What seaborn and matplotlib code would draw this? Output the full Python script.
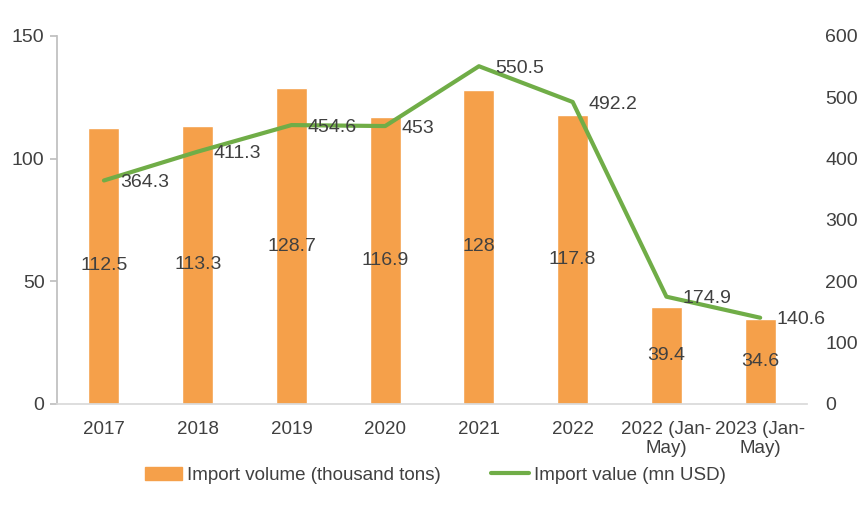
import matplotlib
matplotlib.use("Agg")
import matplotlib.pyplot as plt
import seaborn as sns
import pandas as pd
from matplotlib.lines import Line2D
from matplotlib.patches import Patch

categories = ["2017", "2018", "2019", "2020", "2021", "2022", "2022 (Jan-\nMay)", "2023 (Jan-\nMay)"]
volume = [112.5, 113.3, 128.7, 116.9, 128, 117.8, 39.4, 34.6]
value = [364.3, 411.3, 454.6, 453, 550.5, 492.2, 174.9, 140.6]
vol_labels = ["112.5", "113.3", "128.7", "116.9", "128", "117.8", "39.4", "34.6"]
val_labels = ["364.3", "411.3", "454.6", "453", "550.5", "492.2", "174.9", "140.6"]

sns.set_theme(style="white")
plt.rcParams['font.family'] = ['Liberation Sans', 'DejaVu Sans']
txt = "#404040"
bar_c = "#F5A04A"
line_c = "#70AD47"
fs = 14

df = pd.DataFrame({"cat": categories, "volume": volume, "value": value})

fig = plt.figure(figsize=(8.65, 5.05), dpi=100)
ax = fig.add_axes([0.066, 0.2, 0.867, 0.729])
sns.barplot(data=df, x="cat", y="volume", color=bar_c, width=0.33, ax=ax, saturation=1)
ax.set_ylim(0, 150)
ax.set_yticks([0, 50, 100, 150])
ax.set_xlim(-0.5, len(categories) - 0.5)
ax.set_xlabel("")
ax.set_ylabel("")
for i, (v, lab) in enumerate(zip(volume, vol_labels)):
    ax.text(i, v / 2, lab, ha="center", va="center", fontsize=fs, color=txt)

ax2 = ax.twinx()
sns.lineplot(x=list(range(len(categories))), y=value, color=line_c, linewidth=3, ax=ax2)
ax2.set_ylim(0, 600)
ax2.set_yticks([0, 100, 200, 300, 400, 500, 600])
for i, (v, lab) in enumerate(zip(value, val_labels)):
    ax2.annotate(lab, (i, v), xytext=(11.5, -1.5), textcoords="offset points",
                 ha="left", va="center", fontsize=fs, color=txt)

for a in (ax, ax2):
    for s in a.spines.values():
        s.set_visible(False)
    a.tick_params(labelsize=fs, colors=txt)
ax.spines["left"].set_visible(True)
ax.spines["left"].set_color("#BFBFBF")
ax.spines["bottom"].set_visible(True)
ax.spines["bottom"].set_color("#D9D9D9")
ax.tick_params(axis="y", left=True, length=5, color="#BFBFBF", pad=4)
ax.tick_params(axis="x", bottom=False, pad=6, labelsize=13.5)
ax2.tick_params(axis="y", right=False, pad=7)

handles = [Patch(color=bar_c), Line2D([0], [0], color=line_c, lw=3)]
fig.legend(handles, ["Import volume (thousand tons)", "Import value (mn USD)"],
           loc="center", bbox_to_anchor=(0.503, 0.059), ncol=2, frameon=False,
           fontsize=13.5, labelcolor=txt, handlelength=2.0, columnspacing=2.7,
           handletextpad=0.25)
fig.savefig("out.png", dpi=100)
